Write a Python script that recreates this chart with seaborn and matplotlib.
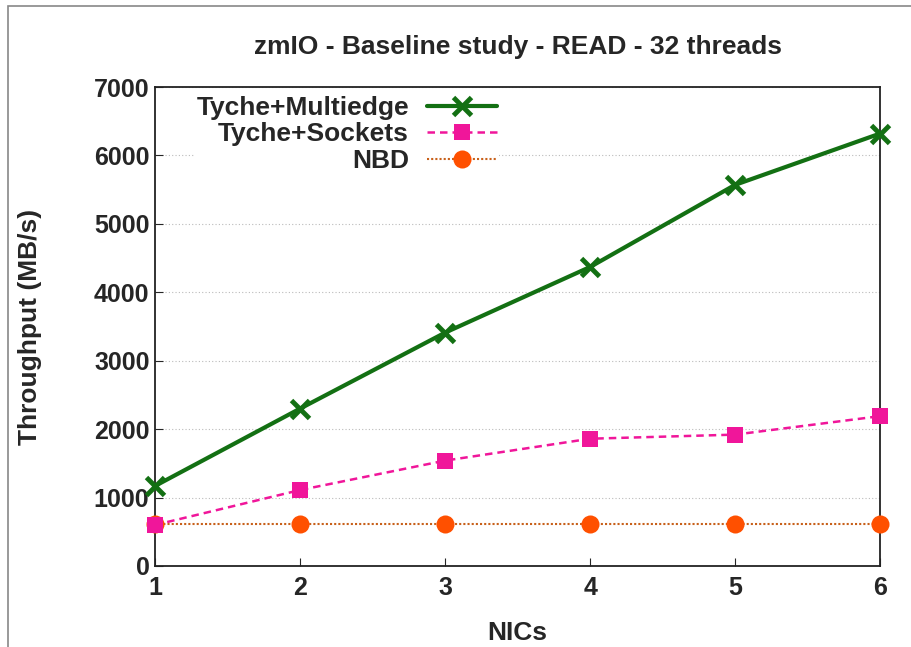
import matplotlib
matplotlib.use("Agg")
import matplotlib.pyplot as plt
import numpy as np
import pandas as pd
import seaborn as sns

# data
nics = [1, 2, 3, 4, 5, 6]
multiedge = [1170, 2300, 3410, 4370, 5570, 6320]
sockets = [600, 1110, 1540, 1860, 1920, 2190]
nbd = [610, 610, 610, 610, 610, 610]

series_names = ['Tyche+Multiedge', 'Tyche+Sockets', 'NBD']
yticks = [0, 1000, 2000, 3000, 4000, 5000, 6000, 7000]

sns.set_style('white')
plt.rcParams['font.family'] = ['Liberation Sans', 'DejaVu Sans']
plt.rcParams['font.weight'] = 'bold'

fig = plt.figure(figsize=(9.12, 6.47), dpi=100)
ax = fig.add_axes([0.170, 0.1252, 0.795, 0.7403])

df = pd.DataFrame({'NICs': nics, series_names[0]: multiedge,
                   series_names[1]: sockets, series_names[2]: nbd})

green = '#137013'
pink = '#f0169a'
orange = '#ff5000'

sns.lineplot(data=df, x='NICs', y=series_names[0], ax=ax, color=green,
             linewidth=3, marker='x', markersize=13, markeredgewidth=3.5,
             markeredgecolor=green, label=series_names[0], zorder=5, clip_on=False)
sns.lineplot(data=df, x='NICs', y=series_names[1], ax=ax, color=pink,
             linewidth=1.8, linestyle=(0, (3, 2)), marker='s', markersize=12,
             markeredgewidth=0, markerfacecolor=pink, label=series_names[1],
             zorder=4, clip_on=False)
sns.lineplot(data=df, x='NICs', y=series_names[2], ax=ax, color='#c8601a',
             linewidth=1.5, linestyle=(0, (1, 1)), marker='o', markersize=13,
             markerfacecolor=orange, markeredgewidth=0,
             label=series_names[2], zorder=3, clip_on=False)

ax.set_xlim(1, 6)
ax.set_ylim(0, 7000)
ax.set_xticks(nics)
ax.set_yticks(yticks)
ax.tick_params(direction='in', length=6, width=0.8, labelsize=18,
               top=False, right=False, bottom=True, left=True)
ax.tick_params(axis='x', pad=7)
ax.tick_params(axis='y', pad=4)
ax.yaxis.grid(True, color='#bbbbbb', linestyle=(0, (1, 2)), linewidth=0.8)
ax.set_axisbelow(True)
for s in ax.spines.values():
    s.set_color('#222222')
    s.set_linewidth(1.3)

ax.set_xlabel('NICs', fontsize=19, fontweight='bold', labelpad=15)
ax.set_ylabel('Throughput (MB/s)', fontsize=19, fontweight='bold', labelpad=37)
ax.set_title('zmIO - Baseline study - READ - 32 threads', fontsize=19,
             fontweight='bold', pad=24)

leg = ax.legend(loc='upper left', bbox_to_anchor=(0.037, 1.012), markerfirst=False,
                frameon=True, fancybox=False, edgecolor='none', facecolor='white',
                framealpha=1, fontsize=19, handlelength=2.65, handletextpad=0.7,
                labelspacing=0.1, borderpad=0.05)
for col in leg._legend_handle_box.get_children():
    col.align = 'right'

# thin grey frame around the picture
fig.patches.append(plt.Rectangle((0.009, -0.1), 1.2, 1.09, transform=fig.transFigure,
                                 fill=False, edgecolor='#888888', linewidth=1.2))

fig.savefig('out.png', dpi=100)
